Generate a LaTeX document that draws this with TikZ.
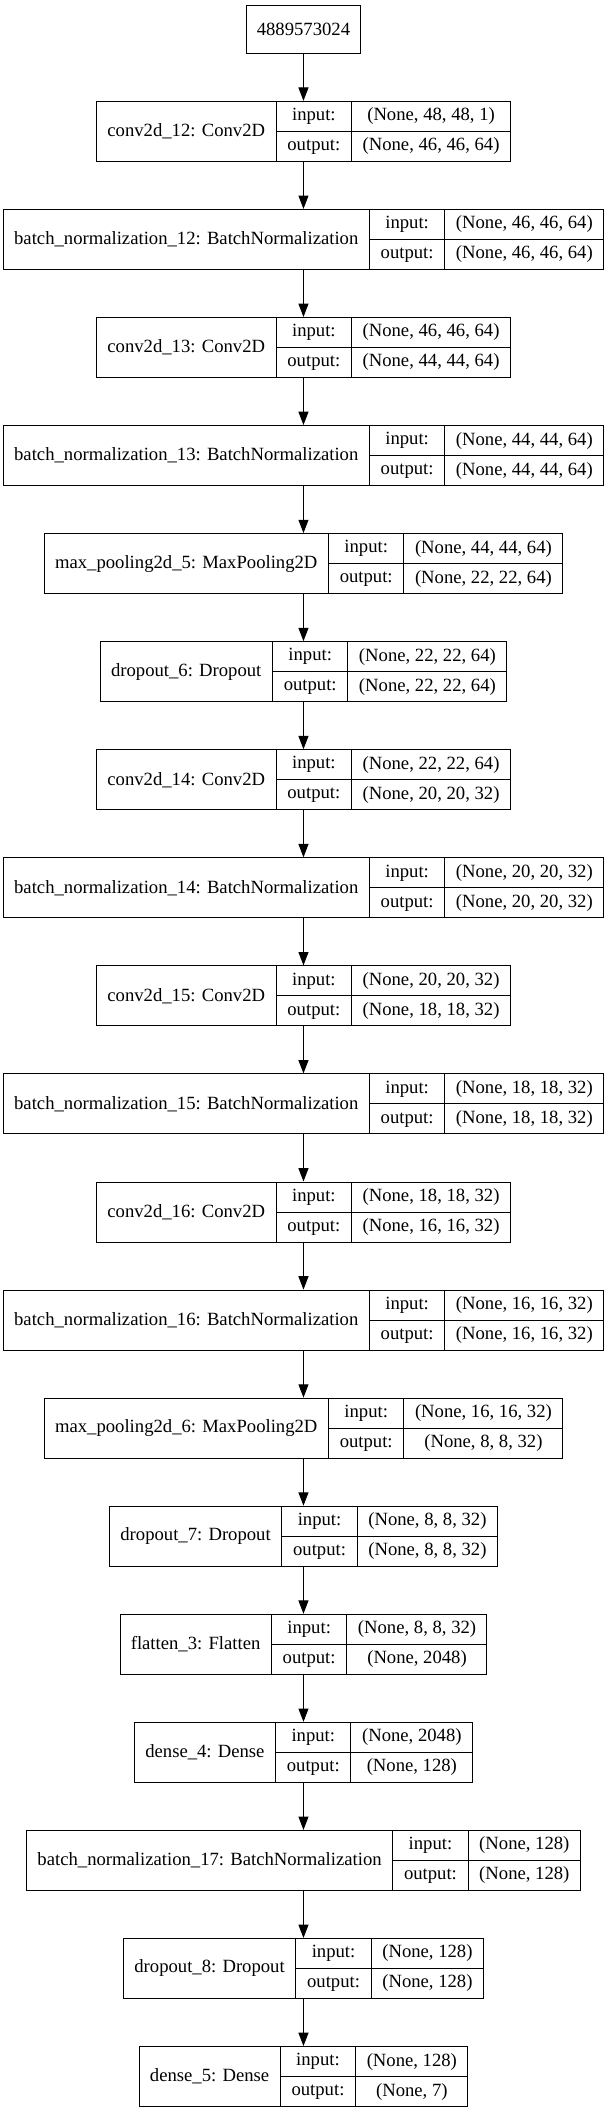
\documentclass[tikz,border=0pt]{standalone}
\usepackage{fontspec}
\setmainfont{Liberation Serif}
\usetikzlibrary{shapes.multipart, arrows.meta}

\begin{document}
\begin{tikzpicture}[
    x=1pt, y=1pt, line width=0.75pt,
    every node/.style={font=\fontsize{14pt}{22.5pt}\selectfont},
    inputstyle/.style={rectangle, draw, inner xsep=8pt, minimum height=36pt},
    layerstyle/.style={rectangle split, rectangle split horizontal, rectangle split parts=3, draw, inner xsep=8pt, inner ysep=0pt, minimum height=45pt, align=center,
        append after command={(\tikzlastnode.one split north |- \tikzlastnode.east) edge (\tikzlastnode.east)}},
    arrowstyle/.style={-{Triangle[length=10pt, width=7.5pt]}}
]
    \useasboundingbox (0,0) rectangle (455.25,-1584);

    \node[inputstyle] (inp) at (227.6,-22) {4889573024};
    \node[layerstyle] (conv12) at (227.6,-98.5) {conv2d\_12: Conv2D \nodepart{two} input:\\output: \nodepart{three} (None, 48, 48, 1)\\(None, 46, 46, 64)};
    \node[layerstyle] (bn12) at (227.6,-179.55) {batch\_normalization\_12: BatchNormalization \nodepart{two} input:\\output: \nodepart{three} (None, 46, 46, 64)\\(None, 46, 46, 64)};
    \node[layerstyle] (conv13) at (227.6,-260.6) {conv2d\_13: Conv2D \nodepart{two} input:\\output: \nodepart{three} (None, 46, 46, 64)\\(None, 44, 44, 64)};
    \node[layerstyle] (bn13) at (227.6,-341.65) {batch\_normalization\_13: BatchNormalization \nodepart{two} input:\\output: \nodepart{three} (None, 44, 44, 64)\\(None, 44, 44, 64)};
    \node[layerstyle] (pool5) at (227.6,-422.7) {max\_pooling2d\_5: MaxPooling2D \nodepart{two} input:\\output: \nodepart{three} (None, 44, 44, 64)\\(None, 22, 22, 64)};
    \node[layerstyle] (drop6) at (227.6,-503.75) {dropout\_6: Dropout \nodepart{two} input:\\output: \nodepart{three} (None, 22, 22, 64)\\(None, 22, 22, 64)};
    \node[layerstyle] (conv14) at (227.6,-584.8) {conv2d\_14: Conv2D \nodepart{two} input:\\output: \nodepart{three} (None, 22, 22, 64)\\(None, 20, 20, 32)};
    \node[layerstyle] (bn14) at (227.6,-665.85) {batch\_normalization\_14: BatchNormalization \nodepart{two} input:\\output: \nodepart{three} (None, 20, 20, 32)\\(None, 20, 20, 32)};
    \node[layerstyle] (conv15) at (227.6,-746.9) {conv2d\_15: Conv2D \nodepart{two} input:\\output: \nodepart{three} (None, 20, 20, 32)\\(None, 18, 18, 32)};
    \node[layerstyle] (bn15) at (227.6,-827.95) {batch\_normalization\_15: BatchNormalization \nodepart{two} input:\\output: \nodepart{three} (None, 18, 18, 32)\\(None, 18, 18, 32)};
    \node[layerstyle] (conv16) at (227.6,-909.0) {conv2d\_16: Conv2D \nodepart{two} input:\\output: \nodepart{three} (None, 18, 18, 32)\\(None, 16, 16, 32)};
    \node[layerstyle] (bn16) at (227.6,-990.05) {batch\_normalization\_16: BatchNormalization \nodepart{two} input:\\output: \nodepart{three} (None, 16, 16, 32)\\(None, 16, 16, 32)};
    \node[layerstyle] (pool6) at (227.6,-1071.1) {max\_pooling2d\_6: MaxPooling2D \nodepart{two} input:\\output: \nodepart{three} (None, 16, 16, 32)\\(None, 8, 8, 32)};
    \node[layerstyle] (drop7) at (227.6,-1152.15) {dropout\_7: Dropout \nodepart{two} input:\\output: \nodepart{three} (None, 8, 8, 32)\\(None, 8, 8, 32)};
    \node[layerstyle] (flat3) at (227.6,-1233.2) {flatten\_3: Flatten \nodepart{two} input:\\output: \nodepart{three} (None, 8, 8, 32)\\(None, 2048)};
    \node[layerstyle] (dense4) at (227.6,-1314.25) {dense\_4: Dense \nodepart{two} input:\\output: \nodepart{three} (None, 2048)\\(None, 128)};
    \node[layerstyle] (bn17) at (227.6,-1395.3) {batch\_normalization\_17: BatchNormalization \nodepart{two} input:\\output: \nodepart{three} (None, 128)\\(None, 128)};
    \node[layerstyle] (drop8) at (227.6,-1476.35) {dropout\_8: Dropout \nodepart{two} input:\\output: \nodepart{three} (None, 128)\\(None, 128)};
    \node[layerstyle] (dense5) at (227.6,-1557.4) {dense\_5: Dense \nodepart{two} input:\\output: \nodepart{three} (None, 128)\\(None, 7)};

    \draw[arrowstyle] (inp) -- (conv12);
    \draw[arrowstyle] (conv12) -- (bn12);
    \draw[arrowstyle] (bn12) -- (conv13);
    \draw[arrowstyle] (conv13) -- (bn13);
    \draw[arrowstyle] (bn13) -- (pool5);
    \draw[arrowstyle] (pool5) -- (drop6);
    \draw[arrowstyle] (drop6) -- (conv14);
    \draw[arrowstyle] (conv14) -- (bn14);
    \draw[arrowstyle] (bn14) -- (conv15);
    \draw[arrowstyle] (conv15) -- (bn15);
    \draw[arrowstyle] (bn15) -- (conv16);
    \draw[arrowstyle] (conv16) -- (bn16);
    \draw[arrowstyle] (bn16) -- (pool6);
    \draw[arrowstyle] (pool6) -- (drop7);
    \draw[arrowstyle] (drop7) -- (flat3);
    \draw[arrowstyle] (flat3) -- (dense4);
    \draw[arrowstyle] (dense4) -- (bn17);
    \draw[arrowstyle] (bn17) -- (drop8);
    \draw[arrowstyle] (drop8) -- (dense5);
\end{tikzpicture}
\end{document}
